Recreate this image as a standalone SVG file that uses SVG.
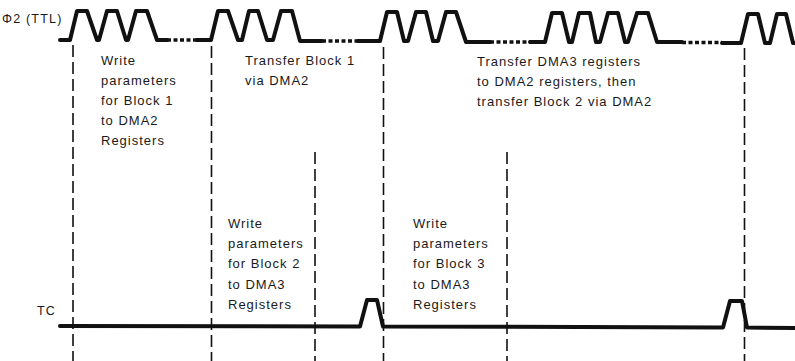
<svg xmlns="http://www.w3.org/2000/svg" width="795" height="361" viewBox="0 0 795 361">
<style>
  .bg{fill:#ffffff}
  .wave{fill:none;stroke:#111;stroke-width:4;stroke-linejoin:round;stroke-linecap:round}
  .dots{fill:none;stroke:#111;stroke-width:3.5;stroke-dasharray:4 2.5}
  .vline{fill:none;stroke:#111;stroke-width:1.6;stroke-dasharray:12 5}
  text{font-family:"Liberation Sans",Arial,sans-serif;font-size:13px;letter-spacing:1px;fill:#1a1a1a}
  .sig{font-size:12.5px;letter-spacing:1.2px}
</style>
<rect class="bg" x="0" y="0" width="795" height="361"/>

<g id="phi2-signal">
  <text class="sig" x="2" y="23">Φ2 (TTL)</text>
  <path class="wave" d="M60,40 L70,40 L77,11 L87,11 L97,40 L99,40 L107,11 L117,11 L126,40 L128,40 L136,11 L147,11 L157,40 L167,40"/>
  <path class="dots" d="M167,40 L197,40"/>
  <path class="wave" d="M197,40 L211,40 L218,11 L228,11 L238,40 L242,40 L249,11 L258,11 L267,40 L273,40 L281,11 L292,11 L300,41 L322,41"/>
  <path class="dots" d="M322,41 L358,41"/>
  <path class="wave" d="M358,41 L380,41 L387,12 L397,12 L404,41 L408,41 L416,12 L426,12 L433,41 L438,41 L446,12 L456,12 L466,42 L490,42"/>
  <path class="dots" d="M490,42 L530,42"/>
  <path class="wave" d="M530,42 L545,42 L552,13 L562,13 L569,42 L572,42 L579,13 L590,13 L596,42 L600,42 L608,13 L618,13 L625,42 L628,42 L637,13 L648,13 L657,42 L682,42"/>
  <path class="dots" d="M682,42.5 L722,42.5"/>
  <path class="wave" d="M722,43 L741,43 L748,14 L758,14 L765,43 L770,43 L777,14 L786,14 L793,43 L797,43"/>
</g>

<g id="tc-signal">
  <text class="sig" x="37" y="315">TC</text>
  <path class="wave" d="M60,326 L360,326.5 L367,300 L377,300 L383,326.5 L723,327.5 L730,301 L742,301 L747,327.5 L797,328"/>
</g>

<g id="connectors">
  <line class="vline" x1="73" y1="45" x2="73" y2="361"/>
  <line class="vline" x1="211.5" y1="46" x2="211.5" y2="361"/>
  <line class="vline" x1="315" y1="152" x2="315" y2="361"/>
  <line class="vline" x1="383.5" y1="47" x2="383.5" y2="361"/>
  <line class="vline" x1="507" y1="152" x2="507" y2="361"/>
  <line class="vline" x1="744.5" y1="48" x2="744.5" y2="361"/>
</g>

<g id="phase-write-block1">
  <text x="101" y="65">Write</text>
  <text x="101" y="85">parameters</text>
  <text x="101" y="105">for Block 1</text>
  <text x="101" y="125">to DMA2</text>
  <text x="101" y="145">Registers</text>
</g>

<g id="phase-transfer-block1">
  <text x="245" y="65">Transfer Block 1</text>
  <text x="245" y="85">via DMA2</text>
</g>

<g id="phase-transfer-block2">
  <text x="477" y="66">Transfer DMA3 registers</text>
  <text x="477" y="86">to DMA2 registers, then</text>
  <text x="477" y="106">transfer Block 2 via DMA2</text>
</g>

<g id="phase-write-block2">
  <text x="228" y="228">Write</text>
  <text x="228" y="248">parameters</text>
  <text x="228" y="268">for Block 2</text>
  <text x="228" y="289">to DMA3</text>
  <text x="228" y="309">Registers</text>
</g>

<g id="phase-write-block3">
  <text x="413" y="228">Write</text>
  <text x="413" y="248">parameters</text>
  <text x="413" y="268">for Block 3</text>
  <text x="413" y="289">to DMA3</text>
  <text x="413" y="309">Registers</text>
</g>
</svg>
